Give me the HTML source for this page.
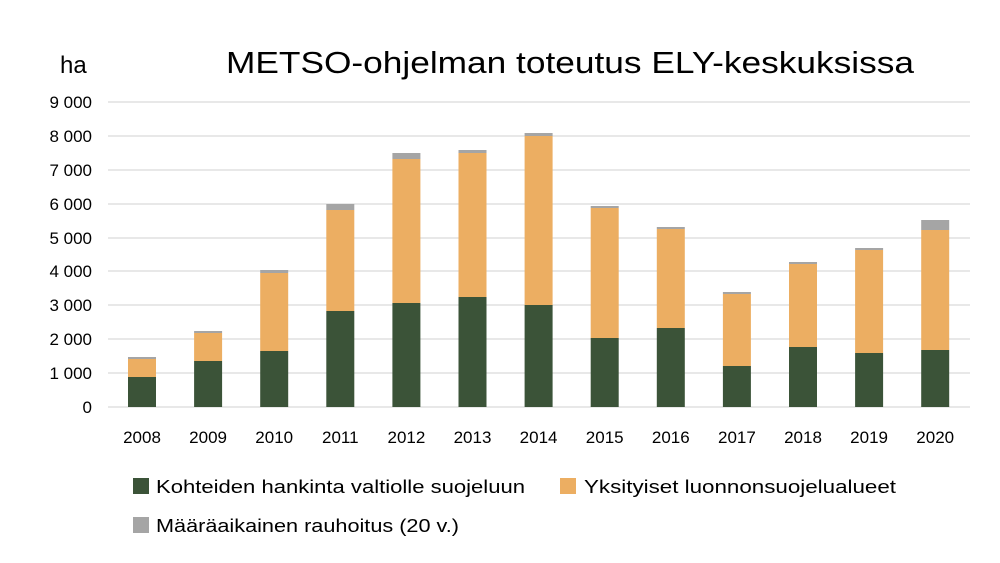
<!DOCTYPE html>
<html><head><meta charset="utf-8"><style>
body{margin:0;background:#fff;}
svg{display:block;font-family:"Liberation Sans",sans-serif;}
</style></head><body>
<svg width="1000" height="563" viewBox="0 0 1000 563">
<rect width="1000" height="563" fill="#fff"/>
<text x="60" y="73" font-size="24" fill="#000">ha</text>
<text x="226" y="73" font-size="31" fill="#000" textLength="688" lengthAdjust="spacingAndGlyphs">METSO-ohjelman toteutus ELY-keskuksissa</text>
<g stroke="#d9d9d9" stroke-width="1.3">
<line x1="108" x2="970" y1="102" y2="102"/><line x1="108" x2="970" y1="136" y2="136"/>
<line x1="108" x2="970" y1="170" y2="170"/><line x1="108" x2="970" y1="204" y2="204"/>
<line x1="108" x2="970" y1="238" y2="238"/><line x1="108" x2="970" y1="271" y2="271"/>
<line x1="108" x2="970" y1="305" y2="305"/><line x1="108" x2="970" y1="339" y2="339"/>
<line x1="108" x2="970" y1="373" y2="373"/><line x1="108" x2="970" y1="407" y2="407"/>
</g>
<g font-size="17" fill="#000" text-anchor="end">
<text x="92" y="108">9 000</text><text x="92" y="142">8 000</text><text x="92" y="176">7 000</text>
<text x="92" y="210">6 000</text><text x="92" y="244">5 000</text><text x="92" y="277">4 000</text>
<text x="92" y="311">3 000</text><text x="92" y="345">2 000</text><text x="92" y="379">1 000</text>
<text x="92" y="413">0</text>
</g>
<g>
<rect x="128" y="357" width="28" height="2" fill="#a5a5a5"/><rect x="128" y="359" width="28" height="18" fill="#ecae62"/><rect x="128" y="377" width="28" height="30" fill="#3b5338"/>
<rect x="194.1" y="331" width="28" height="2" fill="#a5a5a5"/><rect x="194.1" y="333" width="28" height="28" fill="#ecae62"/><rect x="194.1" y="361" width="28" height="46" fill="#3b5338"/>
<rect x="260.2" y="270" width="28" height="3" fill="#a5a5a5"/><rect x="260.2" y="273" width="28" height="78" fill="#ecae62"/><rect x="260.2" y="351" width="28" height="56" fill="#3b5338"/>
<rect x="326.3" y="204" width="28" height="6" fill="#a5a5a5"/><rect x="326.3" y="210" width="28" height="101" fill="#ecae62"/><rect x="326.3" y="311" width="28" height="96" fill="#3b5338"/>
<rect x="392.4" y="153" width="28" height="6" fill="#a5a5a5"/><rect x="392.4" y="159" width="28" height="144" fill="#ecae62"/><rect x="392.4" y="303" width="28" height="104" fill="#3b5338"/>
<rect x="458.5" y="150" width="28" height="3" fill="#a5a5a5"/><rect x="458.5" y="153" width="28" height="144" fill="#ecae62"/><rect x="458.5" y="297" width="28" height="110" fill="#3b5338"/>
<rect x="524.6" y="133" width="28" height="3" fill="#a5a5a5"/><rect x="524.6" y="136" width="28" height="169" fill="#ecae62"/><rect x="524.6" y="305" width="28" height="102" fill="#3b5338"/>
<rect x="590.7" y="206" width="28" height="2" fill="#a5a5a5"/><rect x="590.7" y="208" width="28" height="130" fill="#ecae62"/><rect x="590.7" y="338" width="28" height="69" fill="#3b5338"/>
<rect x="656.8" y="227" width="28" height="2" fill="#a5a5a5"/><rect x="656.8" y="229" width="28" height="99" fill="#ecae62"/><rect x="656.8" y="328" width="28" height="79" fill="#3b5338"/>
<rect x="722.9" y="292" width="28" height="2" fill="#a5a5a5"/><rect x="722.9" y="294" width="28" height="72" fill="#ecae62"/><rect x="722.9" y="366" width="28" height="41" fill="#3b5338"/>
<rect x="789" y="262" width="28" height="2" fill="#a5a5a5"/><rect x="789" y="264" width="28" height="83" fill="#ecae62"/><rect x="789" y="347" width="28" height="60" fill="#3b5338"/>
<rect x="855.1" y="248" width="28" height="2" fill="#a5a5a5"/><rect x="855.1" y="250" width="28" height="103" fill="#ecae62"/><rect x="855.1" y="353" width="28" height="54" fill="#3b5338"/>
<rect x="921.2" y="220" width="28" height="10" fill="#a5a5a5"/><rect x="921.2" y="230" width="28" height="120" fill="#ecae62"/><rect x="921.2" y="350" width="28" height="57" fill="#3b5338"/>
</g>
<g font-size="17" fill="#000" text-anchor="middle">
<text x="142" y="443">2008</text><text x="208.1" y="443">2009</text><text x="274.2" y="443">2010</text>
<text x="340.3" y="443">2011</text><text x="406.4" y="443">2012</text><text x="472.5" y="443">2013</text>
<text x="538.6" y="443">2014</text><text x="604.7" y="443">2015</text><text x="670.8" y="443">2016</text>
<text x="736.9" y="443">2017</text><text x="803" y="443">2018</text><text x="869.1" y="443">2019</text>
<text x="935.2" y="443">2020</text>
</g>
<rect x="133" y="478" width="16" height="16" fill="#3b5338"/>
<text x="156" y="493" font-size="18" textLength="369" lengthAdjust="spacingAndGlyphs">Kohteiden hankinta valtiolle suojeluun</text>
<rect x="560" y="478" width="16" height="16" fill="#ecae62"/>
<text x="584" y="493" font-size="18" textLength="312" lengthAdjust="spacingAndGlyphs">Yksityiset luonnonsuojelualueet</text>
<rect x="133" y="517" width="16" height="16" fill="#a5a5a5"/>
<text x="156" y="532" font-size="18" textLength="303" lengthAdjust="spacingAndGlyphs">Määräaikainen rauhoitus (20 v.)</text>
</svg>
</body></html>
